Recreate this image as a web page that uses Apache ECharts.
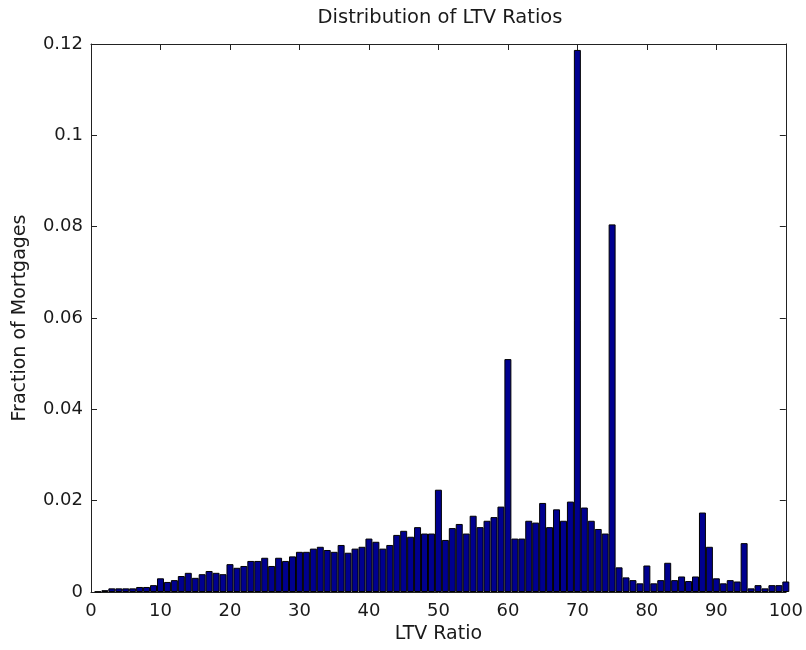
<!DOCTYPE html>
<html>
<head>
<meta charset="utf-8">
<script src="https://cdn.jsdelivr.net/npm/echarts@6/dist/echarts.min.js"></script>
<style>
html,body{margin:0;padding:0;background:#fff;}
#chart{width:806px;height:650px;}
</style>
</head>
<body>
<div id="chart"></div>
<script>
const ltvBins = [1,2,3,4,5,6,7,8,9,10,11,12,13,14,15,16,17,18,19,20,
  21,22,23,24,25,26,27,28,29,30,31,32,33,34,35,36,37,38,39,40,
  41,42,43,44,45,46,47,48,49,50,51,52,53,54,55,56,57,58,59,60,
  61,62,63,64,65,66,67,68,69,70,71,72,73,74,75,76,77,78,79,80,
  81,82,83,84,85,86,87,88,89,90,91,92,93,94,95,96,97,98,99,100];
const fractions = [
  0.0001,0.0004,0.0008,0.0008,0.0008,0.0008,0.0011,0.0011,0.0015,0.0030,
  0.0022,0.0026,0.0035,0.0042,0.0031,0.0039,0.0046,0.0042,0.0039,0.0061,
  0.0053,0.0057,0.0068,0.0068,0.0075,0.0057,0.0075,0.0068,0.0078,0.0088,
  0.0088,0.0095,0.0099,0.0092,0.0088,0.0103,0.0086,0.0095,0.0099,0.0117,
  0.0110,0.0095,0.0103,0.0125,0.0134,0.0121,0.0142,0.0128,0.0128,0.0224,
  0.0114,0.0140,0.0149,0.0128,0.0167,0.0142,0.0156,0.0164,0.0187,0.0510,
  0.0117,0.0117,0.0156,0.0152,0.0195,0.0142,0.0181,0.0156,0.0198,0.1187,
  0.0185,0.0156,0.0138,0.0128,0.0805,0.0054,0.0032,0.0026,0.0019,0.0058,
  0.0019,0.0026,0.0064,0.0026,0.0034,0.0024,0.0034,0.0174,0.0099,0.0030,
  0.0019,0.0026,0.0023,0.0107,0.0008,0.0015,0.0008,0.0015,0.0015,0.0023];
const xTicks = [0,10,20,30,40,50,60,70,80,90,100];
const yTicks = [0,0.02,0.04,0.06,0.08,0.1,0.12];

const FONT = "'DejaVu Sans', sans-serif";
const TXT = '#1a1a1a';
const LINE = '#222';
const chart = echarts.init(document.getElementById('chart'), null, {renderer:'canvas'});

const W = 806;
const gridL = 91, gridR = 17, gridT = 44, gridB = 58;
const plotW = W - gridL - gridR;
const plotCenterX = gridL + plotW / 2;
const xMin = xTicks[0], xMax = xTicks[xTicks.length-1];
const yMin = yTicks[0], yMax = yTicks[yTicks.length-1];

const axisCommon = {
  axisLine:{show:true, onZero:false, lineStyle:{color:LINE, width:1}},
  axisTick:{show:true, inside:true, length:6, lineStyle:{color:LINE}},
  splitLine:{show:false}
};

chart.setOption({
  backgroundColor:'#fff',
  animation:false,
  graphic:[{
    type:'text',
    x: plotCenterX, y: 8,
    style:{
      text:'Distribution of LTV Ratios',
      fontFamily:FONT, fontSize:19.5, fill:TXT,
      textAlign:'center', textVerticalAlign:'top'
    }
  }],
  grid:{left:gridL, right:gridR, top:gridT, bottom:gridB, containLabel:false},
  xAxis:[
    Object.assign({type:'value', min:xMin, max:xMax, interval:10, position:'bottom',
      name:'LTV Ratio', nameLocation:'middle', nameGap:31,
      nameTextStyle:{fontFamily:FONT, fontSize:19, color:TXT},
      axisLabel:{fontFamily:FONT, fontSize:18, color:TXT, margin:10}}, axisCommon),
    Object.assign({type:'value', min:xMin, max:xMax, interval:10, position:'top',
      axisLabel:{show:false}}, axisCommon)
  ],
  yAxis:[
    Object.assign({type:'value', min:yMin, max:yMax, interval:0.02, position:'left',
      name:'Fraction of Mortgages', nameLocation:'middle', nameGap:61,
      nameTextStyle:{fontFamily:FONT, fontSize:19, color:TXT},
      axisLabel:{fontFamily:FONT, fontSize:18, color:TXT, margin:8}}, axisCommon),
    Object.assign({type:'value', min:yMin, max:yMax, interval:0.02, position:'right',
      axisLabel:{show:false}}, axisCommon)
  ],
  series:[{
    type:'bar',
    xAxisIndex:0, yAxisIndex:0,
    data: ltvBins.map((b,i)=>[b, fractions[i]]),
    barWidth: plotW/(xMax-xMin),
    clip:true,
    itemStyle:{color:'#00008F', borderColor:'#000', borderWidth:1}
  }]
});
</script>
</body>
</html>
